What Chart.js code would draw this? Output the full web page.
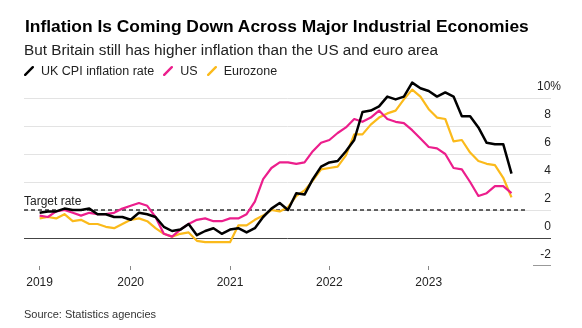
<!DOCTYPE html>
<html>
<head>
<meta charset="utf-8">
<script src="https://cdn.jsdelivr.net/npm/chart.js@4/dist/chart.umd.min.js"></script>
<style>
  html, body { margin: 0; padding: 0; background: #fff; }
  #wrap { position: relative; width: 582px; height: 328px; overflow: hidden; background: #fff;
          font-family: "Liberation Sans", Arial, Helvetica, sans-serif; }
  #c { position: absolute; left: 0; top: 0; }
  .txt { position: absolute; white-space: nowrap; }
  #title { left: 25px; top: 18px; font-weight: bold; font-size: 17.4px; line-height: 17.4px; color: #000; }
  #subtitle { left: 24px; top: 42px; font-size: 15.3px; line-height: 15.3px; color: #222; }
  #legend { left: 24px; top: 65px; font-size: 12.5px; line-height: 12.5px; color: #222; display: flex; align-items: center; }
  #legend .item { display: flex; align-items: center; margin-right: 9px; }
  #legend svg { margin-right: 7px; }
  #source { left: 24px; top: 309px; font-size: 11px; line-height: 11px; color: #333; }
</style>
</head>
<body>
<div id="wrap">
  <canvas id="c" width="582" height="328"></canvas>
  <div id="title" class="txt">Inflation Is Coming Down Across Major Industrial Economies</div>
  <div id="subtitle" class="txt">But Britain still has higher inflation than the US and euro area</div>
  <div id="legend" class="txt"></div>
  <div id="source" class="txt">Source: Statistics agencies</div>
</div>
<script>
// ---- Data (monthly, Jan 2019 .. Oct 2023), year-over-year % ----
const seriesNames = ['UK CPI inflation rate', 'US', 'Eurozone'];
const seriesColors = ['#000000', '#ec1e8c', '#fbba1b'];

const ukValues = [1.8,1.9,1.9,2.1,2.0,2.0,2.1,1.7,1.7,1.5,1.5,1.3,
                  1.8,1.7,1.5,0.8,0.5,0.6,1.0,0.2,0.5,0.7,0.3,0.6,
                  0.7,0.4,0.7,1.5,2.1,2.5,2.0,3.2,3.1,4.2,5.1,5.4,
                  5.5,6.2,7.0,9.0,9.1,9.4,10.1,9.9,10.1,11.1,10.7,10.5,
                  10.1,10.4,10.1,8.7,8.7,7.9,6.8,6.7,6.7,4.6];
const usValues = [1.6,1.5,1.9,2.0,1.8,1.6,1.8,1.7,1.7,1.8,2.1,2.3,
                  2.5,2.3,1.5,0.3,0.1,0.6,1.0,1.3,1.4,1.2,1.2,1.4,
                  1.4,1.7,2.6,4.2,5.0,5.4,5.4,5.3,5.4,6.2,6.8,7.0,
                  7.5,7.9,8.5,8.3,8.6,9.1,8.5,8.3,8.2,7.7,7.1,6.5,
                  6.4,6.0,5.0,4.9,4.0,3.0,3.2,3.7,3.7,3.2];
const ezValues = [1.4,1.5,1.4,1.7,1.2,1.3,1.0,1.0,0.8,0.7,1.0,1.3,
                  1.4,1.2,0.7,0.3,0.1,0.3,0.4,-0.2,-0.3,-0.3,-0.3,-0.3,
                  0.9,0.9,1.3,1.6,2.0,1.9,2.2,3.0,3.4,4.1,4.9,5.0,
                  5.1,5.9,7.4,7.4,8.1,8.6,8.9,9.1,9.9,10.6,10.1,9.2,
                  8.6,8.5,6.9,7.0,6.1,5.5,5.3,5.2,4.3,2.9];

const targetRate = [2];
const targetLabel = 'Target rate';

// x axis: months counted from 1 Jan 2019 (value 1 = first data month)
const xTickMonths = [1, 12, 24, 36, 48];
const xTickLabels = ['2019', '2020', '2021', '2022', '2023'];
const yTicks = [-2, 0, 2, 4, 6, 8, 10];
const yTickLabels = ['-2', '0', '2', '4', '6', '8', '10%'];

const X_MIN = -0.885, X_MAX = 62.77, TARGET_END = 59.64;
const Y_MIN = -2, Y_MAX = 12;

// ---- HTML legend from series arrays ----
const legendEl = document.getElementById('legend');
seriesNames.forEach((name, i) => {
  const it = document.createElement('span');
  it.className = 'item';
  it.innerHTML = '<svg width="10" height="10" viewBox="0 0 10 10"><line x1="1.2" y1="8.8" x2="8.8" y2="1.2" stroke="' +
    seriesColors[i] + '" stroke-width="2.4" stroke-linecap="round"/></svg><span>' + name + '</span>';
  legendEl.appendChild(it);
});

const toPoints = arr => arr.map((v, i) => ({ x: i + 1, y: v }));
const FONT = '"Liberation Sans", Arial, Helvetica, sans-serif';

const overlay = {
  id: 'overlay',
  afterDraw(chart) {
    const { ctx, chartArea, scales: { y } } = chart;
    const yT = y.getPixelForValue(targetRate[0]);
    ctx.save();
    ctx.font = '12px ' + FONT;
    ctx.fillStyle = '#222';
    ctx.textAlign = 'left';
    ctx.textBaseline = 'alphabetic';
    ctx.fillText(targetLabel, chartArea.left, yT - 5);
    const yb = Math.round(y.getPixelForValue(yTicks[0])) - 0.5;
    ctx.strokeStyle = '#999';
    ctx.lineWidth = 1;
    ctx.beginPath();
    ctx.moveTo(chartArea.right - 18, yb);
    ctx.lineTo(chartArea.right, yb);
    ctx.stroke();
    ctx.restore();
  }
};

const lineWidths = [2.5, 2.2, 2.2];
const allSeries = [ukValues, usValues, ezValues];

new Chart(document.getElementById('c'), {
  type: 'line',
  data: {
    datasets: allSeries.map((vals, i) => ({
      label: seriesNames[i],
      data: toPoints(vals),
      borderColor: seriesColors[i],
      borderWidth: lineWidths[i],
      pointRadius: 0,
      tension: 0,
      borderJoinStyle: 'round',
      borderCapStyle: 'butt',
      fill: false
    })).concat([{
      label: targetLabel,
      data: [{ x: X_MIN, y: targetRate[0] }, { x: TARGET_END, y: targetRate[0] }],
      borderColor: '#333',
      borderWidth: 1.5,
      borderDash: [4, 3],
      pointRadius: 0,
      fill: false
    }])
  },
  options: {
    responsive: false,
    animation: false,
    devicePixelRatio: 1,
    layout: { padding: { left: 24, right: 31, top: 70, bottom: 38 } },
    plugins: { legend: { display: false }, tooltip: { enabled: false } },
    scales: {
      x: {
        type: 'linear',
        position: 'bottom',
        min: X_MIN,
        max: X_MAX,
        border: { display: false },
        grid: { drawOnChartArea: false, drawTicks: true, tickLength: 4, tickColor: '#888', tickWidth: 1 },
        afterBuildTicks: s => { s.ticks = xTickMonths.map(v => ({ value: v })); },
        afterFit: s => { s.height = 24; s.paddingLeft = 0; s.paddingRight = 0; },
        ticks: {
          autoSkip: false, maxRotation: 0, padding: 5.5,
          color: '#222', font: { family: FONT, size: 12 },
          callback: (v, i) => xTickLabels[i]
        }
      },
      y: {
        type: 'linear',
        position: 'right',
        min: Y_MIN,
        max: Y_MAX,
        border: { display: false },
        grid: {
          drawTicks: false,
          lineWidth: 1,
          color: c => {
            const v = c.tick && c.tick.value;
            if (v === 0) return '#444';
            if (v === yTicks[0]) return 'rgba(0,0,0,0)';
            return '#e3e3e3';
          }
        },
        afterBuildTicks: s => { s.ticks = yTicks.map(v => ({ value: v })); },
        afterFit: s => { s.width = 0; s.paddingTop = 0; s.paddingBottom = 0; },
        ticks: {
          mirror: true, padding: 10, labelOffset: -11,
          color: '#222', font: { family: FONT, size: 12 },
          callback: (v, i) => {
            const lab = yTickLabels[i];
            return lab.endsWith('%') ? lab : lab + '   ';
          }
        }
      }
    }
  },
  plugins: [overlay]
});
</script>
</body>
</html>
